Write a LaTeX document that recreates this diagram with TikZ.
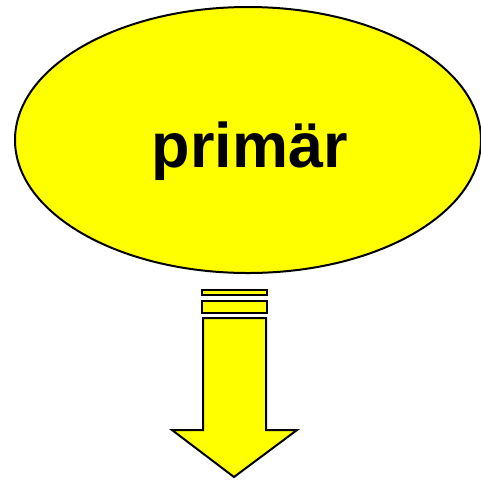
\documentclass[tikz,border=0pt]{standalone}
\usepackage{fontspec}
\setmainfont{Liberation Sans}
\usetikzlibrary{shapes.geometric,positioning}
\definecolor{signal}{rgb}{1,1,0}

\begin{document}
\begin{tikzpicture}[
  x=1pt, y=-1pt,
  outline/.style={draw=black, line width=2pt, fill=signal, line join=miter},
  bubble/.style={
    ellipse, draw=black, line width=2pt, fill=signal,
    minimum width=466pt, minimum height=266pt, inner sep=0pt
  },
  bigword/.style={font=\fontsize{63}{63}\selectfont\bfseries, inner sep=0pt}
]
\useasboundingbox (0,0) rectangle (481,480);

% Top - the ellipse with its word
\node[bubble] (primaer) at (248,140) {};
\node[bigword, anchor=base] (word) at (250,167) {primär};

% Bottom - the broken arrow pointing down
\draw[outline] (202,290) rectangle (267,295);
\draw[outline] (202,301) rectangle (267,313);
\draw[outline] (203,318) -- (266,318) -- (266,430) -- (297,430)
  -- (234,477) -- (172,430) -- (203,430) -- cycle;

\end{tikzpicture}
\end{document}
